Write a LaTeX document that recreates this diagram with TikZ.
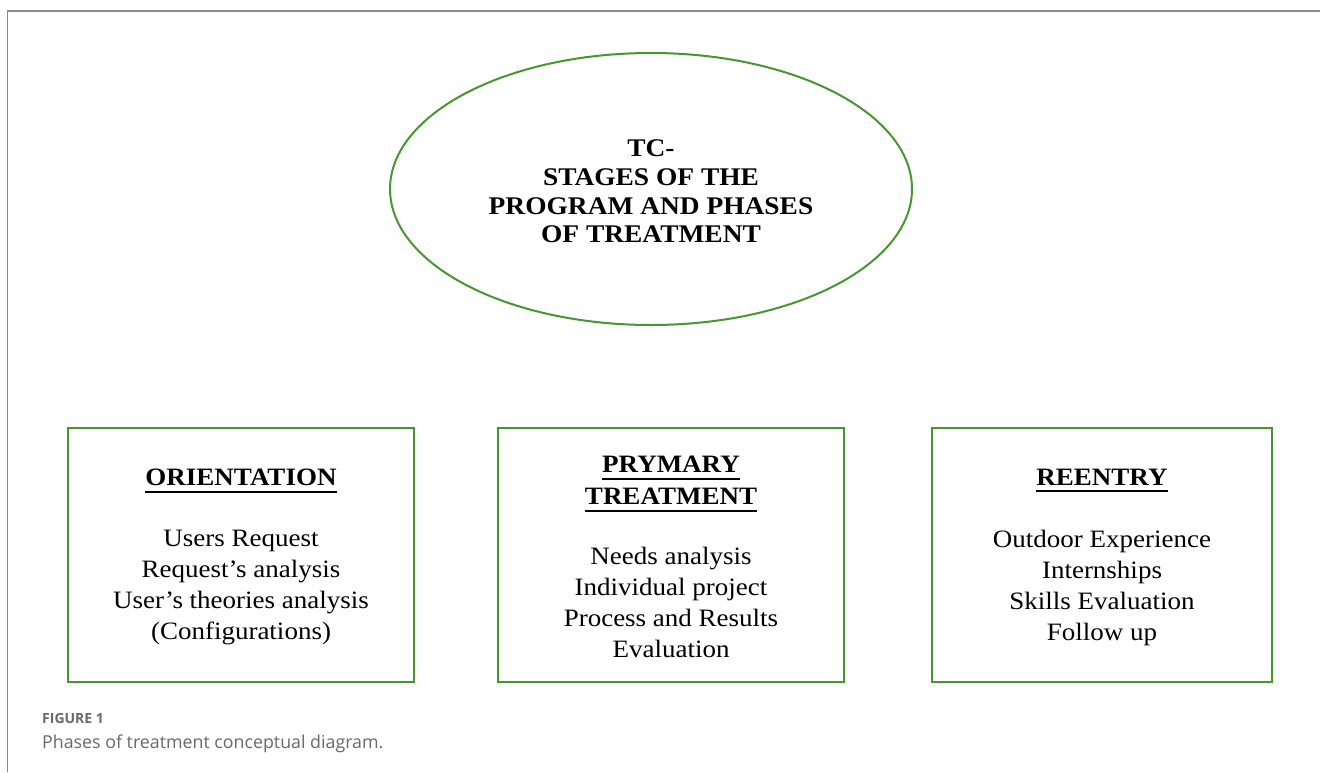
\documentclass[tikz,border=0pt]{standalone}
\usepackage{fontspec}
\setmainfont{Liberation Serif}[FakeStretch=1.08]
\newfontfamily\capfont{Open Sans}
\usetikzlibrary{shapes.geometric}
\definecolor{boxgreen}{RGB}{72,150,48}
\definecolor{framegray}{RGB}{140,140,140}
\definecolor{capgray}{RGB}{105,105,105}
\newcommand\myul[1]{\leavevmode\setbox0\hbox{#1}\rlap{\rule[-7pt]{\wd0}{2pt}}\box0}
\newcommand\hd[1]{{\bfseries\myul{#1}}}
\tikzset{
  phasebox/.style={draw=boxgreen, line width=2.5pt, minimum width=346pt, minimum height=254pt, inner sep=0pt},
  boxtext/.style={align=center, inner sep=0pt, font=\fontsize{25}{31}\selectfont},
  titleoval/.style={ellipse, draw=boxgreen, line width=2pt, minimum width=522pt, minimum height=272pt, inner sep=0pt},
  titletext/.style={align=center, inner sep=0pt, font=\bfseries\fontsize{25.4}{28.7}\selectfont},
  frameline/.style={draw=framegray, line width=1.5pt},
  captext/.style={anchor=base west, inner sep=0pt, text=capgray}
}
\begin{document}
\begin{tikzpicture}[x=1pt, y=-1pt]
\useasboundingbox (0,0) rectangle (1320,772);
\fill[white] (0,0) rectangle (1320,772);
\coordinate (ftop) at (1320,11);
\coordinate (fcorner) at (7.5,11);
\coordinate (fbottom) at (7.5,772);
\draw[frameline] (ftop) -- (fcorner) -- (fbottom);

\node[titleoval] (title) at (651,189) {};
\node[titletext] (titlelabel) at (651,191.5) {TC-\\STAGES OF THE\\PROGRAM AND PHASES\\OF TREATMENT};

\node[phasebox] (orient) at (241,555) {};
\node[boxtext] (orienttext) at (241,557) {\hd{ORIENTATION}\\[30pt]Users Request\\Request’s analysis\\User’s theories analysis\\(Configurations)};

\node[phasebox] (primary) at (671,555) {};
\node[boxtext] (primarytext) at (671,557) {\hd{PRYMARY}\\[1pt]\hd{TREATMENT}\\[29pt]Needs analysis\\Individual project\\Process and Results\\Evaluation};

\node[phasebox, minimum width=340pt] (reentry) at (1102,555) {};
\node[boxtext] (reentrytext) at (1102,557) {\hd{REENTRY}\\[31pt]Outdoor Experience\\Internships\\Skills Evaluation\\Follow up};

\node[captext, font=\capfont\bfseries\fontsize{14}{16}\selectfont] (figlabel) at (42,723) {FIGURE 1};
\node[captext, font=\capfont\fontsize{17.8}{20}\selectfont] (caption) at (42,748) {Phases of treatment conceptual diagram.};
\end{tikzpicture}
\end{document}
